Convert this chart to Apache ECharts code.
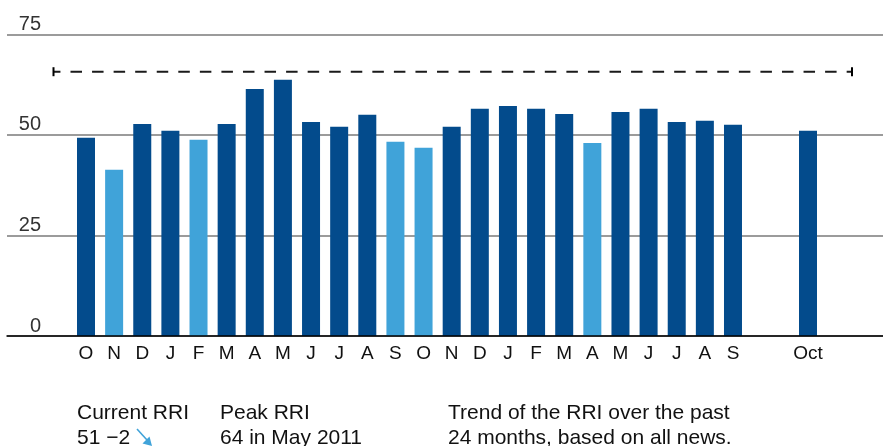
<!DOCTYPE html>
<html>
<head>
<meta charset="utf-8">
<script src="https://cdn.jsdelivr.net/npm/echarts@6/dist/echarts.min.js"></script>
<style>
html,body{margin:0;padding:0;background:#fff;}
#c{width:883px;height:446px;}
</style>
</head>
<body>
<div id="c"></div>
<script>
// ---- data ----
const months = ['O','N','D','J','F','M','A','M','J','J','A','S','O','N','D','J','F','M','A','M','J','J','A','S'];
const rri = [49.3, 41.3, 52.7, 51.0, 48.8, 52.7, 61.4, 63.7, 53.2, 52.0, 55.0, 48.3, 46.8, 52.0, 56.5, 57.2, 56.5, 55.2, 48.0, 55.7, 56.5, 53.2, 53.5, 52.5];
const currentMonth = ['Oct'];
const currentValue = [51];
const yMin = 0, yMax = 75, yStep = 25;
const refLevel = 65.7;
const lowThreshold = 49;
const noteCurrent = ['Current RRI', '51 \u22122'];
const notePeak = ['Peak RRI', '64 in May 2011'];
const noteTrend = ['Trend of the RRI over the past', '24 months, based on all news.'];

// ---- styles ----
const DARK = '#034b8c';
const LIGHT = '#40a3d9';
const FONT = '"Liberation Sans", Arial, sans-serif';

const chart = echarts.init(document.getElementById('c'), null, {renderer: 'canvas'});
const gTop = 34.3, gBottom = 110;
const slot = 28.13;
const hiddenY = (gi) => ({gridIndex: gi, type: 'value', min: yMin, max: yMax, interval: yStep, show: false});
const catX = (gi, data) => ({
  gridIndex: gi, type: 'category', data: data,
  axisLine: {show: false}, axisTick: {show: false}, splitLine: {show: false},
  axisLabel: {margin: 8, fontSize: 19, color: '#111', fontFamily: FONT, interval: 0}
});

chart.setOption({
  animation: false,
  grid: [
    {left: 7, right: 0, top: gTop, bottom: gBottom},
    {left: 86 - slot / 2, width: slot * months.length, top: gTop, bottom: gBottom},
    {left: 808 - slot / 2, width: slot, top: gTop, bottom: gBottom}
  ],
  xAxis: [
    {gridIndex: 0, type: 'value', min: 0, max: 1, z: 5,
     axisLine: {show: true, onZero: false, lineStyle: {color: '#000', width: 1.5}},
     axisTick: {show: false}, axisLabel: {show: false}, splitLine: {show: false}},
    catX(1, months),
    catX(2, currentMonth)
  ],
  yAxis: [
    {gridIndex: 0, type: 'value', min: yMin, max: yMax, interval: yStep,
     axisLine: {show: false}, axisTick: {show: false},
     splitLine: {show: true, lineStyle: {color: '#7a7a7a', width: 1.6}},
     axisLabel: {inside: true, margin: 34, align: 'right', verticalAlign: 'bottom',
                 fontSize: 20, color: '#333', fontFamily: FONT}},
    hiddenY(1),
    hiddenY(2)
  ],
  series: [
    {type: 'bar', xAxisIndex: 1, yAxisIndex: 1, barWidth: 18,
     data: rri.map(v => ({value: v, itemStyle: {color: v < lowThreshold ? LIGHT : DARK}}))},
    {type: 'bar', xAxisIndex: 2, yAxisIndex: 2, barWidth: 18,
     data: currentValue, itemStyle: {color: DARK}}
  ]
});

const yRef = chart.convertToPixel({yAxisIndex: 0}, refLevel);
const xL = 53.5, xR = 852;
const txt = (x, y, s) => ({type: 'text', x: x, y: y, silent: true,
  style: {text: s, font: '21px ' + FONT, fill: '#111', textVerticalAlign: 'middle', verticalAlign: 'middle'}});
chart.setOption({
  graphic: [
    {type: 'line', shape: {x1: xL, y1: yRef, x2: xR, y2: yRef},
     style: {stroke: '#1a1a1a', lineWidth: 2, lineDash: [11.5, 10.06], lineDashOffset: 4.56}},
    {type: 'line', shape: {x1: xL, y1: yRef - 4.5, x2: xL, y2: yRef + 4.5}, style: {stroke: '#000', lineWidth: 2}},
    {type: 'line', shape: {x1: xR, y1: yRef - 4.5, x2: xR, y2: yRef + 4.5}, style: {stroke: '#000', lineWidth: 2}},
    txt(77, 413, noteCurrent[0]), txt(77, 438, noteCurrent[1]),
    txt(220, 413, notePeak[0]), txt(220, 438, notePeak[1]),
    txt(448, 413, noteTrend[0]), txt(448, 438, noteTrend[1]),
    {type: 'line', shape: {x1: 137, y1: 429, x2: 147, y2: 440}, style: {stroke: LIGHT, lineWidth: 1.6}},
    {type: 'polygon', shape: {points: [[152, 446], [142.5, 443.5], [149.5, 436.5]]}, style: {fill: LIGHT}}
  ]
});
</script>
</body>
</html>
